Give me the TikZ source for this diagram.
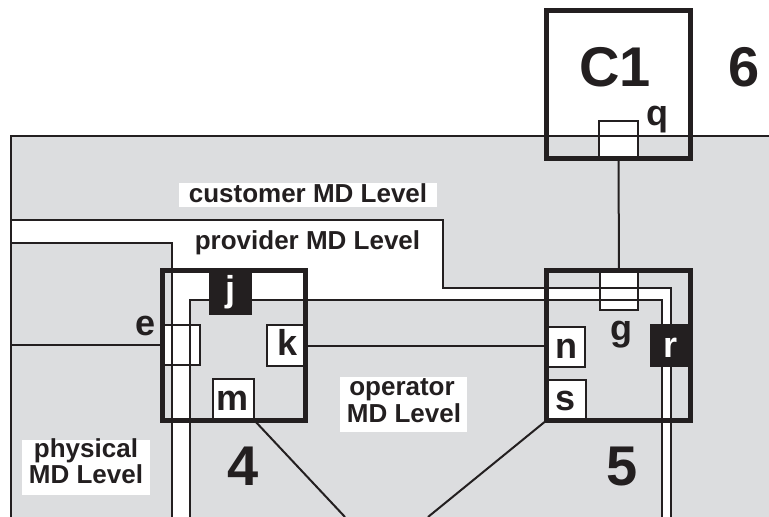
\documentclass[tikz,border=0pt]{standalone}
\usepackage{fontspec}
\setmainfont{Liberation Sans}
\definecolor{bggray}{RGB}{220,221,223}
\definecolor{ink}{RGB}{35,31,32}
\begin{document}
\begin{tikzpicture}[x=1pt,y=-1pt,
  thinline/.style={draw=ink,line width=2pt},
  thickbox/.style={draw=ink,line width=5pt},
  wport/.style={draw=ink,line width=2pt,fill=white,inner sep=0pt,outer sep=0pt},
  bport/.style={draw=ink,line width=2pt,fill=ink,inner sep=0pt,outer sep=0pt},
  labelbg/.style={fill=white,inner sep=0pt,outer sep=0pt},
  lbl/.style={font=\fontsize{26}{27}\selectfont\bfseries,text=ink,anchor=base,inner sep=0pt},
  portlbl/.style={font=\fontsize{36}{36}\selectfont\bfseries,text=ink,anchor=base,inner sep=0pt},
  portlblw/.style={portlbl,text=white},
  biglbl/.style={font=\fontsize{56}{56}\selectfont\bfseries,text=ink,anchor=base,inner sep=0pt}
]
\useasboundingbox (0,0) rectangle (769,517);
% gray area and white band
\fill[bggray] (11,136) rectangle (769,517);
\fill[white] (11,220) -- (443,220) -- (443,288) -- (671,288) -- (671,517) -- (662,517) -- (662,300) -- (190,300) -- (190,517) -- (172,517) -- (172,243) -- (11,243) -- cycle;
% label backgrounds
\node[labelbg,minimum width=258,minimum height=24] (custbg) at (308,195) {};
\node[labelbg,minimum width=128,minimum height=55] (physbg) at (86,467.5) {};
\node[labelbg,minimum width=127,minimum height=55] (operbg) at (403.5,404.5) {};
% white ports with lines through them
\node[wport,minimum width=38,minimum height=40] (e) at (181,345) {};
\node[wport,minimum width=38,minimum height=38] (g) at (619,291) {};
\node[wport,minimum width=39,minimum height=37] (q) at (618.5,139.5) {};
% level boundaries
\draw[thinline] (769,136) -- (11,136) -- (11,517);
\draw[thinline] (11,220) -- (443,220) -- (443,288) -- (671,288) -- (671,517);
\draw[thinline] (11,243) -- (172,243) -- (172,517);
\draw[thinline] (190,517) -- (190,300) -- (662,300) -- (662,517);
% other ports
\node[bport,minimum width=41,minimum height=44] (j) at (230.5,292) {};
\node[wport,minimum width=40,minimum height=41] (k) at (287,345.5) {};
\node[wport,minimum width=41,minimum height=41] (m) at (233.5,399.5) {};
\node[wport,minimum width=38,minimum height=40] (n) at (566,347) {};
\node[wport,minimum width=39,minimum height=40] (s) at (566.5,400) {};
\node[bport,minimum width=39,minimum height=41] (r) at (670.5,345.5) {};
% thick boxes
\node[thickbox,minimum width=143,minimum height=150,inner sep=0pt] (box4) at (234,345.5) {};
\node[thickbox,minimum width=143.5,minimum height=150,inner sep=0pt] (box5) at (618.25,345.5) {};
\node[thickbox,minimum width=144,minimum height=147.5,inner sep=0pt] (boxC) at (618.5,84.25) {};
% connectors
\coordinate (eL) at (11,345);
\coordinate (mEnd) at (345,517);
\coordinate (sEnd) at (428,517);
\draw[thinline] (eL) -- (e.west);
\draw[thinline] (k.east) -- (k.east -| n.west);
\draw[thinline] (q.south) -- (g.north);
\draw[thinline] (m.south east) -- (mEnd);
\draw[thinline] (s.south west) -- (sEnd);
% texts
\node[lbl] (tcust) at (308,202) {customer MD Level};
\node[lbl] (tprov) at (307.5,249) {provider MD Level};
\node[lbl] (tphys1) at (86,457) {physical};
\node[lbl] (tphys2) at (86,483) {MD Level};
\node[lbl] (toper1) at (402,395) {operator};
\node[lbl] (toper2) at (404,422) {MD Level};
\node[portlbl] (te) at (146,335) {e};
\node[portlblw] (tj) at (230,301) {j};
\node[portlbl] (tk) at (288,355) {k};
\node[portlbl] (tm) at (233,410) {m};
\node[portlbl] (tn) at (566,358) {n};
\node[portlbl] (ts) at (566,410) {s};
\node[portlbl] (tg) at (621,340) {g};
\node[portlblw] (tr) at (670,357) {r};
\node[portlbl] (tq) at (657,125) {q};
\node[biglbl] (tC) at (615,86) {C1};
\node[biglbl] (t6) at (744,86) {6};
\node[biglbl] (t4) at (243,485) {4};
\node[biglbl] (t5) at (622,485) {5};
\end{tikzpicture}
\end{document}
